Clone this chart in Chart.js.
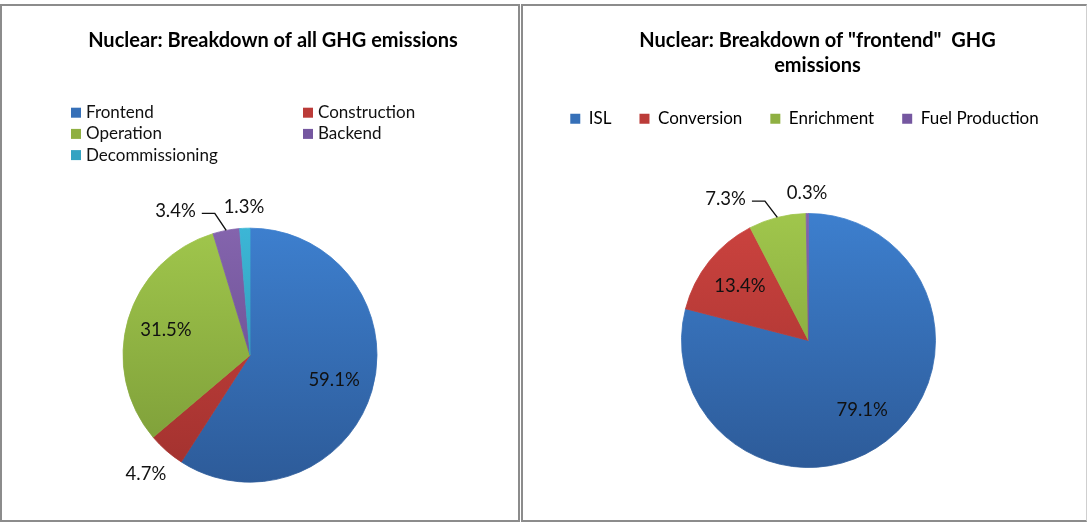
<!DOCTYPE html>
<html>
<head>
<meta charset="utf-8">
<title>Nuclear GHG emissions breakdown</title>
<script src="https://cdn.jsdelivr.net/npm/chart.js@4.4.1/dist/chart.umd.min.js"></script>
<style>
  html, body { margin: 0; padding: 0; background: #fff; }
  body { width: 1087px; height: 522px; position: relative; overflow: hidden; }
  .panel { position: absolute; top: 4px; height: 518px; box-sizing: border-box; border: 2px solid #8c8c8c; background: #fff; }
  #panelAll { left: 0; width: 520px; }
  #panelFront { left: 521px; width: 566px; border-right: 1px solid #cfcfcf; }
  canvas { display: block; }
</style>
</head>
<body>
<div class="panel" id="panelAll"><canvas id="allChart" width="516" height="514"></canvas></div>
<div class="panel" id="panelFront"><canvas id="frontChart" width="563" height="514"></canvas></div>

<script>
// data (percent of total)
const allTitle = 'Nuclear: Breakdown of all GHG emissions';
const allLabels = ['Frontend', 'Construction', 'Operation', 'Backend', 'Decommissioning'];
const allValues = [59.1, 4.7, 31.5, 3.4, 1.3];

const frontTitle = ['Nuclear: Breakdown of "frontend"  GHG', 'emissions'];
const frontLabels = ['ISL', 'Conversion', 'Enrichment', 'Fuel Production'];
const frontValues = [79.1, 13.4, 7.3, 0.3];

// office-like palette: [top of pie, bottom of pie, legend swatch]
const palette = [
  ['#3d7fce', '#2d5b99', '#3670b8'],
  ['#cc433f', '#a1312e', '#bb3b38'],
  ['#a0c64c', '#7a9a37', '#8fb042'],
  ['#8464ad', '#5f4686', '#7557a0'],
  ['#3cb6d6', '#2a8ba5', '#33a3c2']
];

const FONT = 'Lato';
const RADIUS = 127;

// vertical gradient over the pie, lighter on top
function sliceFill(context) {
  const chart = context.chart;
  const c = palette[context.dataIndex % palette.length];
  const area = chart.chartArea;
  if (!area) return c[2];
  const cy = (area.top + area.bottom) / 2;
  const g = chart.ctx.createLinearGradient(0, cy - RADIUS, 0, cy + RADIUS);
  g.addColorStop(0, c[0]);
  g.addColorStop(1, c[1]);
  return g;
}

// moves the title and the pie area independently after layout
const nudge = {
  id: 'nudge',
  afterLayout(chart, args, opts) {
    const t = chart.titleBlock;
    if (t && opts.title) {
      t.left += opts.title;
      t.right += opts.title;
    }
    const a = chart.chartArea;
    a.left += opts.x || 0;
    a.right += opts.x || 0;
    a.top += opts.y || 0;
    a.bottom += opts.y || 0;
  }
};

// percentage labels, inside big slices, outside small ones, with leader line where asked
const sliceLabels = {
  id: 'sliceLabels',
  afterDatasetsDraw(chart, args, opts) {
    const ctx = chart.ctx;
    const meta = chart.getDatasetMeta(0);
    const values = chart.data.datasets[0].data;
    const callouts = opts.callouts || [];
    ctx.save();
    ctx.font = '18.5px ' + FONT;
    ctx.fillStyle = '#111';
    ctx.strokeStyle = '#111';
    ctx.lineWidth = 1.4;
    ctx.textBaseline = 'middle';
    meta.data.forEach((arc, i) => {
      const p = arc.getProps(['x', 'y', 'startAngle', 'endAngle', 'outerRadius'], true);
      const mid = (p.startAngle + p.endAngle) / 2;
      const cos = Math.cos(mid), sin = Math.sin(mid);
      const text = values[i].toFixed(1) + '%';
      const w = ctx.measureText(text).width;
      const share = (p.endAngle - p.startAngle) / (2 * Math.PI);
      if (callouts.includes(i)) {
        const ex = p.x + cos * p.outerRadius;
        const ey = p.y + sin * p.outerRadius;
        const a2 = mid - 0.055;
        const kx = p.x + Math.cos(a2) * p.outerRadius * 1.15;
        const ky = p.y + Math.sin(a2) * p.outerRadius * 1.15;
        ctx.beginPath();
        ctx.moveTo(ex, ey);
        ctx.lineTo(kx, ky);
        ctx.lineTo(kx - 13, ky);
        ctx.stroke();
        ctx.textAlign = 'right';
        ctx.fillText(text, kx - 19, ky - 2);
      } else if (share >= 0.1) {
        ctx.textAlign = 'center';
        ctx.fillText(text, p.x + cos * p.outerRadius * 0.69, p.y + sin * p.outerRadius * 0.69);
      } else {
        const d = p.outerRadius + 10 + Math.abs(cos) * w / 2 + Math.abs(sin) * 10;
        ctx.textAlign = 'center';
        ctx.fillText(text, p.x + cos * d, p.y + sin * d);
      }
    });
    ctx.restore();
  }
};

// two column legend for the left chart (built-in legend can't align columns)
const gridLegend = {
  id: 'gridLegend',
  afterDraw(chart, args, opts) {
    if (!opts.columns) return;
    const ctx = chart.ctx;
    ctx.save();
    ctx.font = '17px ' + FONT;
    ctx.textBaseline = 'middle';
    ctx.textAlign = 'left';
    chart.data.labels.forEach((label, i) => {
      const col = i % opts.columns;
      const row = Math.floor(i / opts.columns);
      const x = opts.left + col * opts.colWidth;
      const y = opts.top + row * opts.rowHeight;
      ctx.fillStyle = palette[i][2];
      ctx.fillRect(x, y - 5, 10, 10);
      ctx.fillStyle = '#111';
      ctx.fillText(label, x + 15, y);
    });
    ctx.restore();
  }
};

const titleFont = { family: FONT, size: 20, weight: 'bold', lineHeight: 1.265 };

new Chart(document.getElementById('allChart'), {
  type: 'pie',
  data: {
    labels: allLabels,
    datasets: [{ data: allValues, backgroundColor: sliceFill, borderColor: sliceFill, borderWidth: 0.8, borderJoinStyle: 'round' }]
  },
  plugins: [nudge, sliceLabels, gridLegend],
  options: {
    responsive: false,
    animation: false,
    radius: RADIUS,
    events: [],
    plugins: {
      title: { display: true, text: allTitle, color: '#000', font: titleFont, padding: { top: 22, bottom: 130 } },
      legend: { display: false },
      tooltip: { enabled: false },
      nudge: { title: 13, x: -10, y: 3.5 },
      sliceLabels: { callouts: [3] },
      gridLegend: { columns: 2, left: 69, top: 106.7, colWidth: 232, rowHeight: 21.2 }
    }
  }
});

new Chart(document.getElementById('frontChart'), {
  type: 'pie',
  data: {
    labels: frontLabels,
    datasets: [{ data: frontValues, backgroundColor: sliceFill, borderColor: sliceFill, borderWidth: 0.8, borderJoinStyle: 'round' }]
  },
  plugins: [nudge, sliceLabels],
  options: {
    responsive: false,
    animation: false,
    radius: RADIUS,
    events: [],
    plugins: {
      title: { display: true, text: frontTitle, color: '#000', font: titleFont, padding: { top: 22, bottom: 3.6 } },
      legend: {
        position: 'top',
        labels: {
          color: '#111',
          font: { family: FONT, size: 17 },
          boxWidth: 10,
          boxHeight: 10,
          padding: 28,
          generateLabels: chart => chart.data.labels.map((text, i) => ({
            text: text,
            fillStyle: palette[i][2],
            strokeStyle: palette[i][2],
            lineWidth: 0,
            hidden: false,
            index: i
          }))
        }
      },
      tooltip: { enabled: false },
      nudge: { title: 13, x: 4, y: 11.9 },
      sliceLabels: { callouts: [2] }
    }
  }
});
</script>
</body>
</html>
